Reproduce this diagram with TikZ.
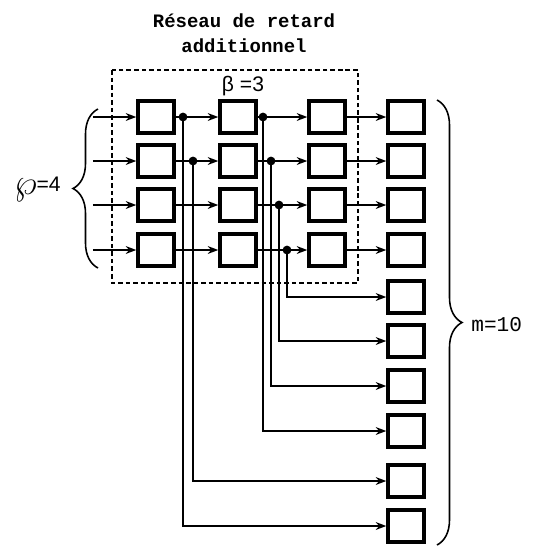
\documentclass[tikz,border=0pt]{standalone}
\usepackage{graphicx}
\usepackage{fontspec}
\setsansfont{Liberation Sans}
\setmonofont{Liberation Mono}
\usetikzlibrary{arrows.meta,decorations.pathreplacing}

\begin{document}
\begin{tikzpicture}[x=0.02cm,y=-0.02cm,
  cell/.style={draw,line width=2pt,minimum width=0.72cm,minimum height=0.64cm,inner sep=0pt},
  link/.style={-{Stealth[length=6pt,width=4.5pt]},line width=0.9pt},
  tap/.style={circle,fill,inner sep=0pt,minimum size=5pt},
  curly/.style={decorate,decoration={brace,amplitude=0.5cm},line width=0.9pt}]
\useasboundingbox (0,0) rectangle (533,549);
\node[font=\ttfamily\bfseries\fontsize{10.8}{14}\selectfont,align=center] (titre) at (244,33) {Réseau de retard\\additionnel};
\draw[line width=0.8pt,dash pattern=on 2.6pt off 1.7pt] (112,70) rectangle (358,283);
\node[font=\sffamily\fontsize{12}{14}\selectfont] (beta) at (243,86) {β =3};
% cellules de retard
\foreach \y [count=\i] in {117,161,205,250} {
  \foreach \x [count=\j] in {156,238,327}
    \node[cell] (a-\i-\j) at (\x,\y) {};
  \coordinate (in-\i) at (93,\y);
}
\foreach \y [count=\k] in {117,161,205,250,297,341,386,431,481,526}
  \node[cell] (o-\k) at (406,\y) {};
% chaines
\foreach \i in {1,...,4} {
  \draw[link] (in-\i) -- (a-\i-1);
  \draw[link] (a-\i-1) -- (a-\i-2);
  \draw[link] (a-\i-2) -- (a-\i-3);
  \draw[link] (a-\i-3) -- (o-\i);
}
% prises
\foreach \x/\y/\k in {183/117/10,193/161/9,263/117/8,271/161/7,279/205/6,287/250/5} {
  \node[tap] (t-\k) at (\x,\y) {};
  \draw[link] (t-\k.center) |- (o-\k);
}
% accolades
\draw[curly] (98,268) -- (98,109);
\node[font=\sffamily\fontsize{12}{14}\selectfont,anchor=east,inner sep=0pt] (rho) at (61,189) {\raisebox{-0.15em}{\scalebox{1.7}{$\wp$}}=4};
\draw[curly] (437,100) -- (437,545);
\node[font=\ttfamily\fontsize{12}{14}\selectfont,anchor=west,inner sep=0pt] (m) at (471,325) {m=10};
\end{tikzpicture}
\end{document}
